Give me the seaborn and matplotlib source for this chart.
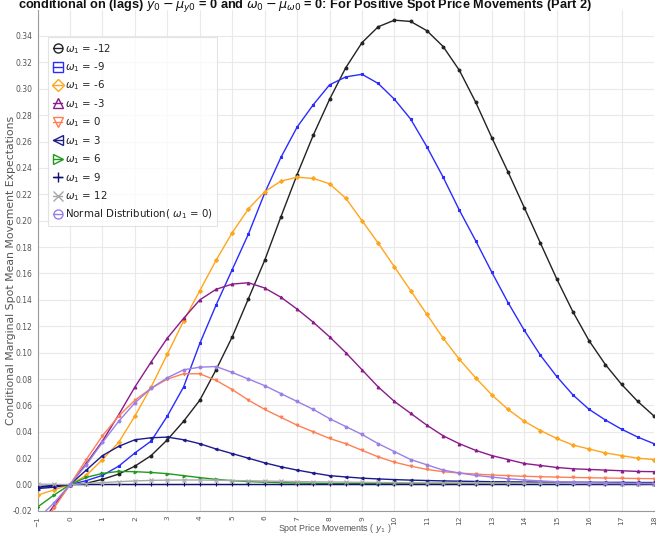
import numpy as np
import pandas as pd
import matplotlib
matplotlib.use("Agg")
import matplotlib.pyplot as plt
from matplotlib.lines import Line2D
import seaborn as sns

# Spot price movements (y_1), sampled every half unit
y1 = np.arange(-1.0, 18.01, 0.5)

w_m12 = [-0.002, -0.0012, 0.0, 0.001, 0.004, 0.008, 0.014, 0.022, 0.034, 0.048,
         0.064, 0.087, 0.112, 0.141, 0.170, 0.203, 0.235, 0.265, 0.292, 0.316,
         0.335, 0.347, 0.352, 0.351, 0.344, 0.332, 0.314, 0.290, 0.263, 0.237,
         0.210, 0.183, 0.156, 0.131, 0.109, 0.091, 0.076, 0.063, 0.052]
w_m9 = [-0.002, -0.001, 0.0, 0.003, 0.007, 0.014, 0.024, 0.033, 0.052, 0.074,
        0.107, 0.136, 0.163, 0.190, 0.221, 0.248, 0.271, 0.288, 0.303, 0.309,
        0.311, 0.304, 0.292, 0.277, 0.256, 0.233, 0.208, 0.185, 0.161, 0.138,
        0.117, 0.098, 0.082, 0.068, 0.057, 0.049, 0.042, 0.036, 0.031]
w_m6 = [-0.008, -0.004, 0.0, 0.007, 0.019, 0.032, 0.052, 0.074, 0.099, 0.124,
        0.147, 0.170, 0.191, 0.209, 0.222, 0.230, 0.233, 0.232, 0.228, 0.217,
        0.200, 0.183, 0.165, 0.147, 0.129, 0.111, 0.095, 0.081, 0.068, 0.057,
        0.048, 0.041, 0.035, 0.030, 0.027, 0.024, 0.022, 0.020, 0.019]
w_m3 = [-0.033, -0.016, 0.0, 0.016, 0.033, 0.053, 0.074, 0.093, 0.111, 0.126,
        0.140, 0.148, 0.152, 0.153, 0.149, 0.142, 0.133, 0.123, 0.112, 0.100,
        0.087, 0.074, 0.063, 0.054, 0.045, 0.037, 0.031, 0.026, 0.022, 0.019,
        0.016, 0.0145, 0.013, 0.012, 0.0115, 0.011, 0.0105, 0.010, 0.0098]
w_0 = [-0.035, -0.018, 0.0, 0.019, 0.037, 0.052, 0.064, 0.073, 0.080, 0.084,
       0.084, 0.079, 0.072, 0.064, 0.057, 0.051, 0.045, 0.040, 0.035, 0.031,
       0.026, 0.021, 0.017, 0.014, 0.0115, 0.0098, 0.0088, 0.008, 0.0073, 0.0068,
       0.0063, 0.006, 0.0057, 0.0054, 0.0052, 0.005, 0.0048, 0.0046, 0.0045]
w_p3 = [-0.003, -0.002, 0.0, 0.011, 0.022, 0.029, 0.034, 0.0355, 0.036, 0.034,
        0.031, 0.027, 0.0235, 0.020, 0.0165, 0.0135, 0.011, 0.0088, 0.0068, 0.0058,
        0.0049, 0.0043, 0.0038, 0.0034, 0.0031, 0.0028, 0.0026, 0.0024, 0.0022, 0.0021,
        0.0020, 0.0019, 0.0019, 0.0018, 0.0018, 0.0017, 0.0017, 0.0016, 0.0016]
w_p6 = [-0.017, -0.008, 0.0, 0.0055, 0.0085, 0.0100, 0.0098, 0.0092, 0.0083, 0.0068,
        0.0053, 0.0040, 0.0030, 0.0023, 0.0018, 0.0015, 0.0012, 0.0010, 0.0009, 0.0009,
        0.0008, 0.0008, 0.0008, 0.0008, 0.0008, 0.0008, 0.0008, 0.0008, 0.0008, 0.0008,
        0.0008, 0.0008, 0.0008, 0.0008, 0.0008, 0.0008, 0.0008, 0.0008, 0.0008]
w_p9 = [-0.0015, -0.0008, 0.0, 0.0001, 0.0001, 0.0001, 0.0001, 0.0001, 0.0001, 0.0001,
        0.0001, 0.0001, 0.0001, 0.0001, 0.0001, 0.0001, 0.0001, 0.0001, 0.0001, 0.0001,
        0.0001, 0.0001, 0.0001, 0.0001, 0.0001, 0.0001, 0.0001, 0.0001, 0.0001, 0.0001,
        0.0001, 0.0001, 0.0001, 0.0001, 0.0001, 0.0001, 0.0001, 0.0001, 0.0001]
w_p12 = [0.0004, 0.0002, 0.0, 0.0008, 0.0015, 0.0022, 0.0028, 0.0032, 0.0034, 0.0035,
         0.0035, 0.0033, 0.0031, 0.0029, 0.0027, 0.0025, 0.0023, 0.0021, 0.0020, 0.0019,
         0.0017, 0.0016, 0.0015, 0.0014, 0.0013, 0.0013, 0.0012, 0.0012, 0.0011, 0.0011,
         0.0010, 0.0010, 0.0010, 0.0009, 0.0009, 0.0009, 0.0008, 0.0008, 0.0008]
normal_w0 = [-0.026, -0.014, 0.0, 0.015, 0.032, 0.048, 0.062, 0.073, 0.081, 0.087,
             0.089, 0.0895, 0.085, 0.080, 0.075, 0.069, 0.063, 0.057, 0.050, 0.044,
             0.038, 0.031, 0.025, 0.019, 0.015, 0.011, 0.0088, 0.007, 0.0057, 0.0045,
             0.0035, 0.0028, 0.0022, 0.0018, 0.0015, 0.0012, 0.0010, 0.0009, 0.0008]

labels = [r"$\omega_1$ = -12", r"$\omega_1$ = -9", r"$\omega_1$ = -6", r"$\omega_1$ = -3",
          r"$\omega_1$ = 0", r"$\omega_1$ = 3", r"$\omega_1$ = 6", r"$\omega_1$ = 9",
          r"$\omega_1$ = 12", r"Normal Distribution( $\omega_1$ = 0)"]
series = [w_m12, w_m9, w_m6, w_m3, w_0, w_p3, w_p6, w_p9, w_p12, normal_w0]
colors = ["#222222", "#2b2bff", "#ffa51c", "#8b1a8b", "#ff7f55",
          "#1c1c8a", "#1f9a1f", "#101070", "#a8a8a8", "#9a80e6"]
markers = ["o", "s", "D", "^", "v", "<", ">", "+", "x", "o"]

df = pd.concat(
    [pd.DataFrame({"y1": y1, "value": vals, "series": lab})
     for vals, lab in zip(series, labels)],
    ignore_index=True,
)

sns.set_style("white")
plt.rcParams["font.family"] = ["DejaVu Sans"]

fig = plt.figure(figsize=(6.62, 5.34), dpi=100)
ax = fig.add_axes([37.6 / 662, 1 - 511 / 534, (654 - 37.6) / 662, (511 - 9.6) / 534])

# grid
ax.set_axisbelow(True)
ax.grid(True, color="#e9e9e9", linewidth=0.8)

for lab, col, mk in zip(labels, colors, markers):
    sub = df[df["series"] == lab]
    ms = 3.5 if mk in ("+", "x") else 2.0
    sns.lineplot(data=sub, x="y1", y="value", color=col, linewidth=1.0,
                 marker=mk, markersize=ms, markeredgewidth=0.8,
                 markeredgecolor=col, ax=ax, legend=False, zorder=3)

ax.set_xlim(-1, 18)
ax.set_ylim(-0.02, 0.36)
ax.set_xticks(np.arange(-1, 19, 1))
ax.set_yticks(np.arange(-0.02, 0.3401, 0.02))
ax.set_yticklabels([f"{v:.2f}" for v in np.arange(-0.02, 0.3401, 0.02)])
ax.tick_params(axis="x", labelrotation=90, labelsize=5.3, colors="#666666",
               length=3, width=0.6, pad=0.5, labelcolor="#555555")
ax.tick_params(axis="y", labelsize=5.5, colors="#666666", length=3, width=0.6,
               pad=1, labelcolor="#555555")
ax.tick_params(axis="both", direction="out")

for side in ("top", "right"):
    ax.spines[side].set_visible(False)
for side in ("left", "bottom"):
    ax.spines[side].set_color("#9a9a9a")
    ax.spines[side].set_linewidth(0.8)

ax.set_xlabel(r"Spot Price Movements ( $y_1$ )", fontsize=6.4, color="#555555",
              family="Liberation Sans")
ax.set_ylabel("Conditional Marginal Spot Mean Movement Expectations", fontsize=7.8,
              color="#555555")
ax.xaxis.set_label_coords((335 - 37.6) / 616.4, (511 - 528.5) / 501.4)
ax.yaxis.set_label_coords((11 - 37.6) / 616.4, (511 - 270) / 501.4)
ax.xaxis.label.set_va("center")
ax.yaxis.label.set_va("center")

handles = [Line2D([0], [0], color=c, marker=m, markersize=6.5, markerfacecolor="none",
                  markeredgewidth=1.0, linewidth=1.0)
           for c, m in zip(colors, markers)]
leg = ax.legend(handles, labels, loc="upper left", bbox_to_anchor=(0.017, 0.946),
                borderaxespad=0, fontsize=7.4, handlelength=0.9, handletextpad=0.2,
                labelspacing=0.45, frameon=True, fancybox=False, borderpad=0.5)
leg.get_frame().set_edgecolor("#dddddd")
leg.get_frame().set_linewidth(0.8)
for t in leg.get_texts():
    t.set_color("#222222")

fig.text(18 / 662, 1 - 8 / 534,
         r"conditional on (lags) $y_0 - \mu_{y0}$ = 0 and $\omega_0 - \mu_{\omega 0}$ = 0: "
         "For Positive Spot Price Movements (Part 2)",
         ha="left", va="baseline", fontsize=9.2, fontweight="bold",
         family="Liberation Sans", color="#111111")

fig.savefig("out.png", dpi=100)
